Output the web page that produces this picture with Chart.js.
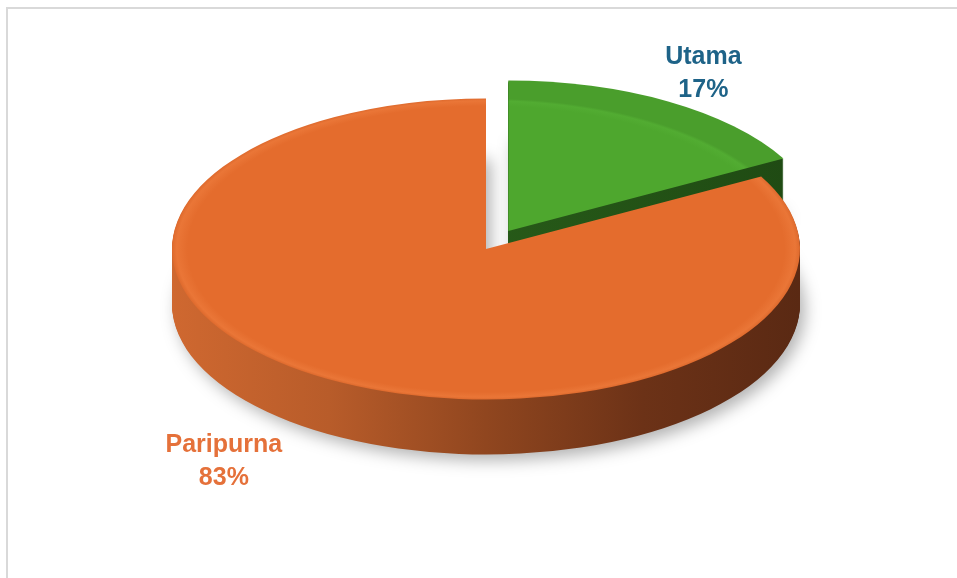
<!DOCTYPE html>
<html>
<head>
<meta charset="utf-8">
<script src="https://cdn.jsdelivr.net/npm/chart.js@4.4.1/dist/chart.umd.min.js"></script>
<style>
  html, body { margin: 0; padding: 0; background: #fff; overflow: hidden; }
  #frame { position: absolute; left: 6px; top: 7px; width: 1000px; height: 620px;
           border-top: 2px solid #d9d9d9; border-left: 2px solid #d9d9d9; }
  #chart { position: absolute; left: 0; top: 0; }
</style>
</head>
<body>
<div id="frame"></div>
<canvas id="chart" width="957" height="578"></canvas>
<script>
const categories = ['Utama', 'Paripurna'];
const shares = [17, 83];
const topColors = ['#4EA72E', '#E46C2D'];
const labelColors = ['#1E6388', '#E5713A'];

// fake 3D pie: stretch the library's arcs sideways and stack them for depth
const pie3d = {
  id: 'pie3d',
  beforeDatasetsDraw(chart, args, opts) {
    const ctx = chart.ctx;
    const area = chart.chartArea;
    const arcs = chart.getDatasetMeta(0).data;
    const c = arcs[0].getProps(['x', 'y', 'outerRadius'], true);
    const sx = (area.width / 2) / c.outerRadius;
    const R = c.outerRadius;

    const slicePath = (arc, dy) => {
      const p = arc.getProps(['x', 'y', 'startAngle', 'endAngle', 'outerRadius'], true);
      const mid = (p.startAngle + p.endAngle) / 2;
      const off = arc.options.offset || 0;
      const ox = p.x + Math.cos(mid) * off;
      const oy = p.y + Math.sin(mid) * off + dy;
      ctx.beginPath();
      ctx.moveTo(ox, oy);
      ctx.arc(ox, oy, p.outerRadius, p.startAngle, p.endAngle);
      ctx.closePath();
    };

    const sideFill = (i) => {
      const g = ctx.createLinearGradient(c.x - R, 0, c.x + R, 0);
      if (i === 0) {
        g.addColorStop(0, '#2F6A1E');
        g.addColorStop(1, '#1F4A13');
      } else {
        g.addColorStop(0, '#CF6830');
        g.addColorStop(0.25, '#B85C2A');
        g.addColorStop(0.5, '#90461F');
        g.addColorStop(0.75, '#6C3217');
        g.addColorStop(1, '#5A2913');
      }
      return g;
    };

    const topFill = (i) => {
      const g = ctx.createRadialGradient(c.x, c.y, 0, c.x, c.y, R);
      const base = topColors[i];
      g.addColorStop(0, base);
      g.addColorStop(0.95, base);
      g.addColorStop(0.985, i === 0 ? '#52AC32' : '#EA7637');
      g.addColorStop(1, i === 0 ? '#4A9E2C' : '#DE6A2D');
      return g;
    };

    const depth = opts.depth;
    ctx.save();
    ctx.translate(c.x, c.y);
    ctx.scale(sx, 1);
    ctx.translate(-c.x, -c.y);

    arcs.forEach((arc, i) => {
      // bottom layer carries the soft shadow
      ctx.save();
      ctx.shadowColor = 'rgba(0,0,0,0.30)';
      ctx.shadowBlur = 16;
      ctx.shadowOffsetX = 5;
      ctx.shadowOffsetY = 6;
      slicePath(arc, depth);
      ctx.fillStyle = sideFill(i);
      ctx.fill();
      ctx.restore();
      for (let d = depth - 1; d > 0; d--) {
        slicePath(arc, d);
        ctx.fillStyle = sideFill(i);
        ctx.fill();
      }
    });

    arcs.forEach((arc, i) => {
      slicePath(arc, 0);
      ctx.fillStyle = topFill(i);
      ctx.fill();
    });
    ctx.restore();
    return false;
  },
  afterDraw(chart, args, opts) {
    const ctx = chart.ctx;
    const area = chart.chartArea;
    const arcs = chart.getDatasetMeta(0).data;
    arcs.forEach((arc, i) => {
      const p = arc.getProps(['x', 'y', 'startAngle', 'endAngle', 'outerRadius'], true);
      const sx = (area.width / 2) / p.outerRadius;
      const mid = (p.startAngle + p.endAngle) / 2;
      const k = opts.labelRadius[i];
      const x = p.x + Math.cos(mid) * p.outerRadius * k * sx;
      const y = p.y + Math.sin(mid) * p.outerRadius * k;
      ctx.save();
      ctx.fillStyle = labelColors[i];
      ctx.font = 'bold 25px "Liberation Sans", Arial, sans-serif';
      ctx.textAlign = 'center';
      ctx.textBaseline = 'middle';
      ctx.fillText(categories[i], x, y - 16);
      ctx.fillText(shares[i] + '%', x, y + 17);
      ctx.restore();
    });
  }
};

new Chart(document.getElementById('chart'), {
  type: 'pie',
  data: {
    labels: categories,
    datasets: [{
      data: shares,
      backgroundColor: topColors,
      borderWidth: 0,
      offset: [21, 0]
    }]
  },
  options: {
    responsive: false,
    animation: false,
    layout: { padding: { left: 172, right: 157, top: 88, bottom: 168 } },
    plugins: {
      legend: { display: false },
      tooltip: { enabled: false },
      pie3d: { depth: 55, labelRadius: [1.36, 1.64] }
    }
  },
  plugins: [pie3d]
});
</script>
</body>
</html>
